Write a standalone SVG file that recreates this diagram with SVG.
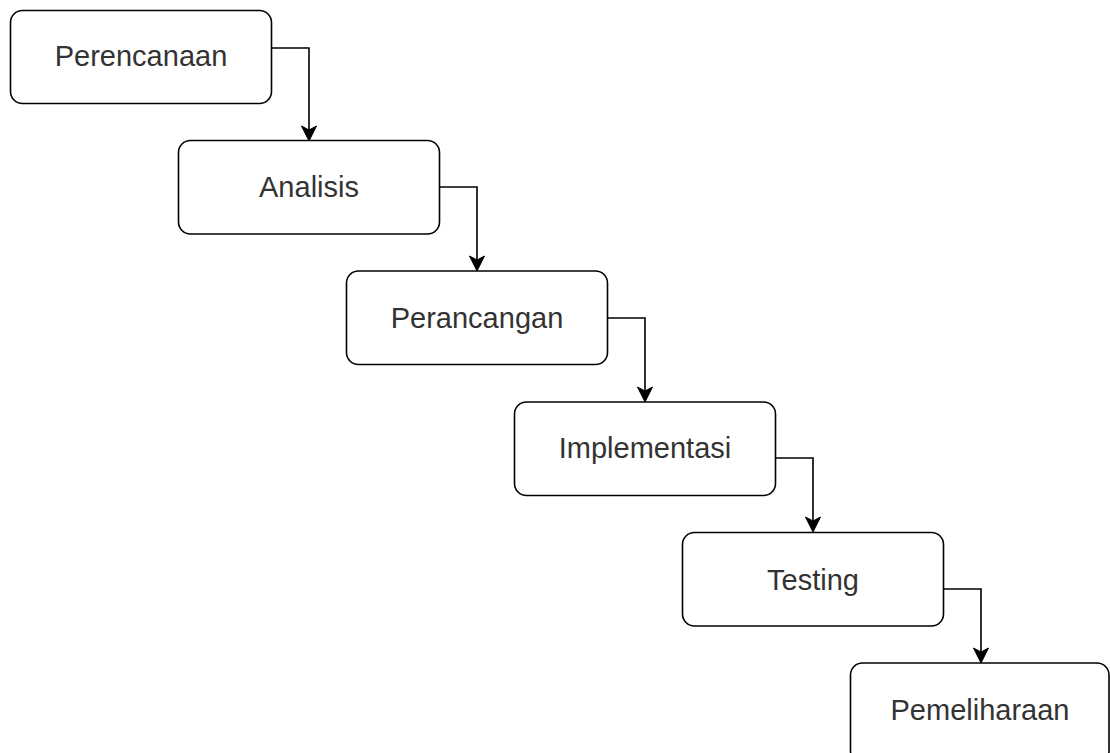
<svg xmlns="http://www.w3.org/2000/svg" width="1110" height="753" viewBox="0 0 1110 753">
<style>
  .box { fill: #ffffff; stroke: #000000; stroke-width: 1.6; }
  .lbl { font-family: "Liberation Sans", Arial, sans-serif; font-size: 29px; fill: #333333; text-anchor: middle; }
  .conn { fill: none; stroke: #000000; stroke-width: 1.6; marker-end: url(#arrow); }
</style>
<defs>
  <marker id="arrow" markerUnits="userSpaceOnUse" viewBox="-1 -9 18 18" markerWidth="18" markerHeight="18" refX="11" refY="0" orient="auto">
    <path d="M0,-7.5 L15,0 L0,7.5 L4,0 Z" fill="#000000" stroke="#000000" stroke-width="1"/>
  </marker>
</defs>
<rect width="1110" height="753" fill="#ffffff"/>
<g id="connectors">
  <path class="conn" d="M271,48 H309 V137"/>
  <path class="conn" d="M439,187 H477 V267"/>
  <path class="conn" d="M607,318 H645 V398"/>
  <path class="conn" d="M775,458 H813 V528"/>
  <path class="conn" d="M943,589 H981 V659"/>
</g>
<g id="n1">
  <rect class="box" x="10.5" y="10.5" width="261" height="93" rx="12"/>
  <text class="lbl" x="141" y="66">Perencanaan</text>
</g>
<g id="n2">
  <rect class="box" x="178.5" y="140.5" width="261" height="93.5" rx="12"/>
  <text class="lbl" x="309" y="197">Analisis</text>
</g>
<g id="n3">
  <rect class="box" x="346.5" y="271" width="261" height="93.5" rx="12"/>
  <text class="lbl" x="477" y="328">Perancangan</text>
</g>
<g id="n4">
  <rect class="box" x="514.5" y="402" width="261" height="93.5" rx="12"/>
  <text class="lbl" x="645" y="458">Implementasi</text>
</g>
<g id="n5">
  <rect class="box" x="682.5" y="532.5" width="261" height="93.5" rx="12"/>
  <text class="lbl" x="813" y="590">Testing</text>
</g>
<g id="n6">
  <rect class="box" x="850.5" y="663" width="258.5" height="100" rx="12"/>
  <text class="lbl" x="980" y="720">Pemeliharaan</text>
</g>
</svg>
